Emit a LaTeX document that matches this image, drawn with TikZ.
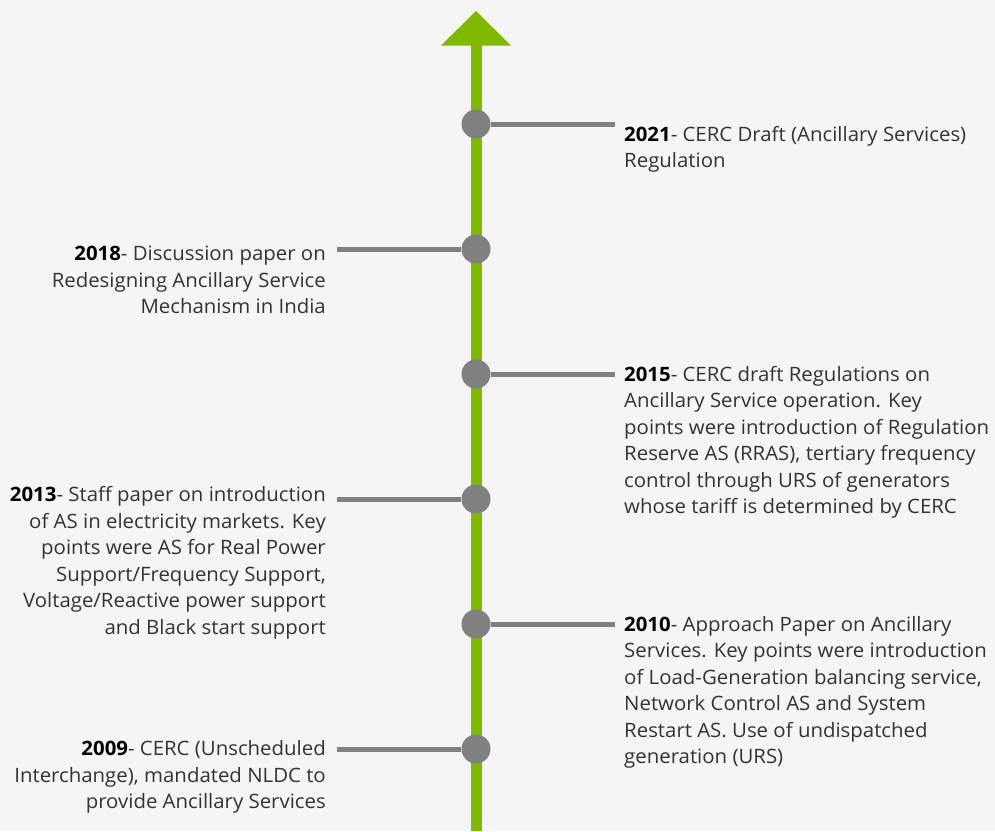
\documentclass[tikz,border=0pt]{standalone}
\usepackage{fontspec}
\setmainfont[FakeStretch=1.03]{Open Sans}
\definecolor{bg}{HTML}{F5F5F5}
\definecolor{axisgreen}{HTML}{7FBA00}
\definecolor{markgray}{HTML}{808080}
\definecolor{txt}{HTML}{333333}
\begin{document}
\begin{tikzpicture}[x=1pt,y=-1pt,
  milestone/.style={circle,fill=markgray,inner sep=0pt,minimum size=29pt},
  leader/.style={draw=markgray,line width=5pt},
  note/.style={inner sep=0pt,text=txt,font=\fontsize{19.8}{26.5}\selectfont},
  noteR/.style={note,anchor=base west,align=left},
  noteL/.style={note,anchor=base east,align=right}]
\useasboundingbox[fill=bg] (0,0) rectangle (995,831);
% timeline axis with arrow head
\coordinate (axisbot) at (476,831);
\coordinate (axistop) at (476,45);
\draw[axisgreen,line width=11pt] (axisbot) -- (axistop);
\fill[axisgreen] (441,45.5) -- (476,11) -- (511,45.5) -- cycle;
% milestones
\foreach \n/\y in {m21/124,m18/249,m15/374,m13/499,m10/624,m09/749}
  \node[milestone] (\n) at (476,\y) {};
\coordinate (e21) at (615,124);
\coordinate (e18) at (337,249);
\coordinate (e15) at (615,374);
\coordinate (e13) at (337,499);
\coordinate (e10) at (615,624);
\coordinate (e09) at (337,749);
\draw[leader] (m21) -- (e21);
\draw[leader] (m18) -- (e18);
\draw[leader] (m15) -- (e15);
\draw[leader] (m13) -- (e13);
\draw[leader] (m10) -- (e10);
\draw[leader] (m09) -- (e09);
% descriptions (anchored at the baseline of their last line)
\node[noteR] (t21) at (624,167.5) {\textcolor{black}{\textbf{2021}}- CERC Draft (Ancillary Services)\\Regulation};
\node[noteL] (t18) at (326,313.5) {\textcolor{black}{\textbf{2018}}- Discussion paper on\\Redesigning Ancillary Service\\Mechanism in India};
\node[noteR] (t15) at (624,513.5) {\textcolor{black}{\textbf{2015}}- CERC draft Regulations on\\Ancillary Service operation. Key\\points were introduction of Regulation\\Reserve AS (RRAS), tertiary frequency\\control through URS of generators\\whose tariff is determined by CERC};
\node[noteL] (t13) at (326,634) {\textcolor{black}{\textbf{2013}}- Staff paper on introduction\\of AS in electricity markets. Key\\points were AS for Real Power\\Support/Frequency Support,\\Voltage/Reactive power support\\and Black start support};
\node[noteR] (t10) at (624,763.5) {\textcolor{black}{\textbf{2010}}- Approach Paper on Ancillary\\Services. Key points were introduction\\of Load-Generation balancing service,\\Network Control AS and System\\Restart AS. Use of undispatched\\generation (URS)};
\node[noteL] (t09) at (326,808.5) {\textcolor{black}{\textbf{2009}}- CERC (Unscheduled\\Interchange), mandated NLDC to\\provide Ancillary Services};
\end{tikzpicture}
\end{document}
